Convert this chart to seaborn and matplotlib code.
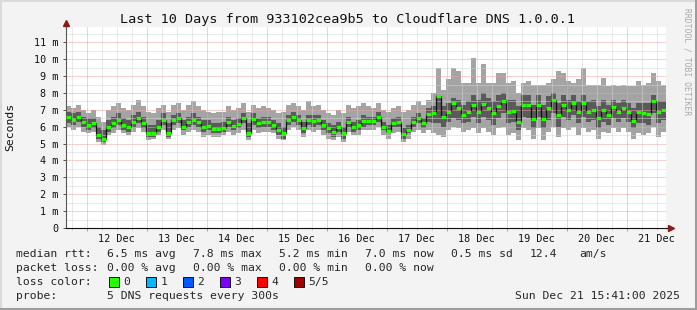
import numpy as np
import pandas as pd
import matplotlib
matplotlib.use('Agg')
import matplotlib.pyplot as plt
import seaborn as sns
from matplotlib.lines import Line2D
from matplotlib.patches import Rectangle

# ---------------- data (ms), 120 steps of 2 h over 10 days ----------------
median = [6.6, 6.4, 6.6, 6.3, 6.1, 6.2, 5.5, 5.3, 6.0, 6.2, 6.4, 6.1, 6.0, 6.3, 6.5, 6.2, 5.6, 5.6, 6.0, 6.4,
          5.6, 6.4, 6.5, 6.0, 6.3, 6.4, 6.3, 6.0, 6.05, 5.85, 5.85, 5.95, 6.3, 6.05, 6.15, 6.5, 5.6, 6.45, 6.2, 6.3,
          6.3, 6.1, 5.8, 5.6, 6.4, 6.6, 6.4, 5.9, 6.4, 6.35, 6.4, 6.1, 5.9, 5.7, 6.0, 5.6, 6.3, 6.0, 6.1, 6.35,
          6.35, 6.35, 6.6, 6.0, 5.75, 6.2, 6.3, 5.55, 5.8, 6.3, 6.5, 6.2, 6.75, 6.8, 7.8, 6.6, 6.9, 7.4, 7.1, 6.7,
          6.9, 7.3, 6.9, 7.35, 7.1, 6.8, 7.2, 7.5, 6.9, 6.95, 6.3, 7.3, 7.3, 6.45, 7.3, 6.45, 7.1, 7.6, 6.7, 7.3,
          7.0, 7.4, 6.9, 7.4, 6.9, 7.0, 6.5, 7.0, 6.7, 7.15, 6.9, 7.1, 6.9, 6.35, 6.85, 6.8, 6.75, 7.5, 6.9, 7.0]

light_hi = [7.2, 7.1, 7.3, 7.0, 6.8, 7.0, 6.6, 6.3, 7.0, 7.2, 7.4, 7.1, 7.0, 7.3, 7.6, 7.2, 6.9, 6.8, 7.1, 7.3,
            6.9, 7.3, 7.4, 7.0, 7.3, 7.5, 7.2, 7.0, 6.9, 6.8, 6.9, 6.9, 7.2, 7.0, 7.1, 7.4, 6.9, 7.3, 7.1, 7.2,
            7.1, 7.0, 6.8, 6.9, 7.3, 7.4, 7.2, 7.0, 7.5, 7.2, 7.3, 7.0, 6.8, 6.7, 7.0, 6.8, 7.3, 7.1, 7.2, 7.4,
            7.2, 7.1, 7.4, 7.0, 6.9, 7.1, 7.2, 6.9, 7.0, 7.3, 7.5, 7.3, 7.6, 8.0, 9.5, 8.2, 8.8, 9.5, 9.3, 8.6,
            8.6, 10.1, 8.6, 9.7, 8.6, 8.6, 9.2, 9.2, 8.6, 8.7, 8.0, 8.6, 8.7, 8.5, 8.5, 8.5, 8.6, 8.8, 9.3, 9.2,
            8.7, 8.6, 8.8, 9.5, 8.5, 8.5, 8.5, 8.9, 8.4, 8.5, 8.4, 8.5, 8.4, 8.4, 8.7, 8.5, 8.6, 9.2, 8.7, 8.5]

light_lo = [6.0, 5.8, 6.0, 5.7, 5.6, 5.7, 5.1, 4.9, 5.5, 5.6, 5.8, 5.6, 5.5, 5.7, 5.9, 5.7, 5.2, 5.3, 5.5, 5.8,
            5.3, 5.8, 5.9, 5.5, 5.7, 5.8, 5.7, 5.4, 5.5, 5.4, 5.4, 5.5, 5.7, 5.5, 5.6, 5.8, 5.2, 5.8, 5.6, 5.7,
            5.7, 5.6, 5.3, 5.2, 5.8, 6.0, 5.8, 5.4, 5.8, 5.7, 5.8, 5.5, 5.3, 5.2, 5.4, 5.1, 5.7, 5.5, 5.5, 5.8,
            5.8, 5.8, 6.0, 5.5, 5.3, 5.6, 5.7, 5.1, 5.3, 5.7, 5.8, 5.6, 5.8, 5.6, 5.5, 5.4, 5.8, 6.0, 5.9, 5.7,
            5.8, 5.9, 5.6, 5.9, 5.7, 5.5, 5.9, 6.0, 5.5, 5.6, 5.2, 5.9, 5.8, 5.3, 5.9, 5.2, 5.7, 6.0, 5.4, 5.9,
            5.8, 6.0, 5.5, 5.9, 5.7, 5.8, 5.3, 5.7, 5.6, 5.9, 5.7, 5.9, 5.7, 5.3, 5.6, 5.5, 5.6, 6.0, 5.4, 5.7]

dark_hi = [6.9, 6.8, 6.9, 6.6, 6.5, 6.5, 6.0, 5.8, 6.4, 6.6, 6.8, 6.5, 6.4, 6.7, 6.9, 6.6, 6.1, 6.1, 6.4, 6.8,
           6.2, 6.7, 6.8, 6.4, 6.6, 6.8, 6.6, 6.4, 6.4, 6.2, 6.2, 6.3, 6.6, 6.4, 6.5, 6.8, 6.2, 6.8, 6.5, 6.6,
           6.6, 6.4, 6.2, 6.0, 6.7, 6.9, 6.7, 6.3, 6.7, 6.7, 6.7, 6.4, 6.2, 6.1, 6.3, 6.0, 6.6, 6.3, 6.4, 6.7,
           6.6, 6.6, 6.9, 6.3, 6.1, 6.5, 6.6, 5.9, 6.1, 6.6, 6.8, 6.5, 7.1, 7.2, 7.9, 7.2, 7.4, 7.7, 7.6, 7.3,
           7.5, 7.9, 7.6, 8.0, 7.7, 7.5, 7.9, 8.0, 7.6, 7.6, 7.2, 7.9, 7.9, 7.3, 7.9, 7.3, 7.8, 8.0, 7.4, 7.9,
           7.6, 7.9, 7.5, 7.9, 7.5, 7.6, 7.2, 7.6, 7.3, 7.6, 7.4, 7.6, 7.4, 7.1, 7.4, 7.4, 7.4, 7.9, 7.5, 7.5]

dark_lo = [6.2, 6.1, 6.3, 6.0, 5.8, 5.9, 5.3, 5.1, 5.7, 5.9, 6.1, 5.8, 5.7, 6.0, 6.2, 5.9, 5.4, 5.4, 5.7, 6.1,
           5.4, 6.1, 6.2, 5.8, 6.0, 6.1, 6.0, 5.7, 5.8, 5.6, 5.6, 5.7, 6.0, 5.8, 5.9, 6.2, 5.4, 6.1, 5.9, 6.0,
           6.0, 5.8, 5.5, 5.3, 6.1, 6.3, 6.1, 5.6, 6.1, 6.0, 6.1, 5.8, 5.6, 5.4, 5.7, 5.3, 6.0, 5.7, 5.8, 6.0,
           6.1, 6.1, 6.3, 5.8, 5.6, 6.0, 6.0, 5.3, 5.6, 6.0, 6.2, 5.9, 6.3, 6.2, 6.2, 6.0, 6.3, 6.5, 6.4, 6.2,
           6.3, 6.6, 6.2, 6.6, 6.4, 6.1, 6.5, 6.8, 6.2, 6.3, 5.8, 6.6, 6.5, 5.9, 6.6, 5.9, 6.4, 6.8, 6.0, 6.6,
           6.4, 6.7, 6.2, 6.6, 6.3, 6.4, 5.9, 6.3, 6.1, 6.5, 6.3, 6.5, 6.3, 5.9, 6.2, 6.2, 6.1, 6.8, 6.2, 6.4]

day_labels = ['12 Dec', '13 Dec', '14 Dec', '15 Dec', '16 Dec', '17 Dec', '18 Dec', '19 Dec', '20 Dec', '21 Dec']
day_values = [12, 13, 14, 15, 16, 17, 18, 19, 20, 21]
ytick_values = [0, 1, 2, 3, 4, 5, 6, 7, 8, 9, 10, 11]
ytick_labels = ['0', '1 m', '2 m', '3 m', '4 m', '5 m', '6 m', '7 m', '8 m', '9 m', '10 m', '11 m']
loss_labels = ['0', '1', '2', '3', '4', '5/5']
loss_colors = ['#26FF00', '#00B8FF', '#0059FF', '#7E00FF', '#FF0000', '#A10000']

# ---------------- figure ----------------
sns.set_style('white')
plt.rcParams['font.family'] = ['DejaVu Sans Mono', 'DejaVu Sans']

W, H = 697, 310
fig = plt.figure(figsize=(W / 100, H / 100), dpi=100, facecolor='#F3F3F3')


def fx(px):
    return px / W


def fy(py):
    return 1 - py / H


X0, X1, YB, YT = 66, 666, 228, 27
ax = fig.add_axes([fx(X0), fy(YB), (X1 - X0) / W, (YB - YT) / H])
ax.set_facecolor('white')

start = 11 + (15 + 41 / 60) / 24
end = start + 10
n = len(median)
edges = start + np.arange(n + 1) / 12.0


def ext(a):
    return list(a) + [a[-1]]


ax.fill_between(edges, ext(light_lo), ext(light_hi), step='post', color='#A4A4A4', lw=0, zorder=2)
ax.fill_between(edges, ext(dark_lo), ext(dark_hi), step='post', color='#5A5A5A', lw=0, zorder=2.1)

# grid (drawn over the smoke like rrdtool)
dot = (0, (1, 1))
for h in np.arange(0.5, 11.95, 0.5):
    if abs(h - round(h)) < 1e-6:
        ax.axhline(h, color='#F2A0A0', lw=0.72, ls=dot, zorder=2.5)
    else:
        ax.axhline(h, color='#D4D4D4', lw=0.72, ls=dot, zorder=2.5)
q = np.arange(np.ceil(start * 4) / 4, end, 0.25)
for v in q:
    if abs(v - round(v)) < 1e-6:
        ax.axvline(v, color='#F2A0A0', lw=0.72, ls=dot, zorder=2.5)
    else:
        ax.axvline(v, color='#D4D4D4', lw=0.72, ls=dot, zorder=2.5)

df = pd.DataFrame({'time': edges, 'median': ext(median)})
sns.lineplot(data=df, x='time', y='median', drawstyle='steps-post', color='#111111', lw=0.9,
             ax=ax, zorder=3, estimator=None)
ax.hlines(median, edges[:-1] + 0.006, edges[1:] - 0.006, color=loss_colors[0], lw=2.3, zorder=3.2)

ax.set_xlim(start, end)
ax.set_ylim(0, (YB - YT) / 16.88)
ax.set_xlabel('')
ax.set_ylabel('')

ax.set_yticks(ytick_values)
ax.set_yticklabels(ytick_labels)
ax.set_xticks(day_values)
ax.set_xticklabels([])
ax.set_xticks(q, minor=True)
ax.tick_params(axis='y', which='major', length=2.2, width=0.7, color='#555555', pad=3,
               labelsize=7.3, labelcolor='#111111', left=True)
ax.tick_params(axis='x', which='major', length=2.0, width=0.7, color='#F08080', bottom=True)
ax.tick_params(axis='x', which='minor', length=1.5, width=0.7, color='#C8C8C8', bottom=True)
for v, lab in zip(day_values, day_labels):
    ax.text(v + 0.5, -10.5 / (YB - YT), lab, transform=ax.get_xaxis_transform(),
            ha='center', va='center', fontsize=7.3, color='#111111')

for s in ['top', 'right']:
    ax.spines[s].set_visible(False)
ax.spines['left'].set_color('#555555')
ax.spines['left'].set_linewidth(0.8)
ax.spines['bottom'].set_color('#111111')
ax.spines['bottom'].set_linewidth(0.8)
ax.grid(False)

# axis extensions and arrows
fig.add_artist(Line2D([fx(66), fx(66)], [fy(YT), fy(22)], color='#555555', lw=0.8))
fig.add_artist(Line2D([fx(X1), fx(671)], [fy(YB), fy(YB)], color='#111111', lw=0.8))
fig.add_artist(Line2D([fx(66)], [fy(23)], marker='^', ms=4.5, color='#8B1A1A', mec='#8B1A1A', lw=0))
fig.add_artist(Line2D([fx(671)], [fy(YB)], marker='>', ms=4.5, color='#8B1A1A', mec='#8B1A1A', lw=0))

# title & side texts
fig.text(fx(348), fy(19), 'Last 10 Days from 933102cea9b5 to Cloudflare DNS 1.0.0.1',
         ha='center', va='center', fontsize=9.7, color='#111111')
fig.text(fx(10), fy(127), 'Seconds', rotation=90, ha='center', va='center', fontsize=8.2, color='#111111')
fig.text(fx(687), fy(8), 'RRDTOOL / TOBI OETIKER', rotation=-90, ha='center', va='top',
         fontsize=5.8, color='#AAAAAA')

# legend lines
LFS = 8.2
rows = [254.3, 267.7, 281.7, 295.7]
fig.text(fx(16), fy(rows[0]), 'median rtt:', ha='left', va='center', fontsize=LFS)
for xp, t in zip([107, 193, 279, 365, 451, 530, 579],
                 ['6.5 ms avg', '7.8 ms max', '5.2 ms min', '7.0 ms now', '0.5 ms sd', '12.4', 'am/s']):
    fig.text(fx(xp), fy(rows[0]), t, ha='left', va='center', fontsize=LFS)
fig.text(fx(16), fy(rows[1]), 'packet loss:', ha='left', va='center', fontsize=LFS)
for xp, t in zip([107, 193, 279, 365], ['0.00 % avg', '0.00 % max', '0.00 % min', '0.00 % now']):
    fig.text(fx(xp), fy(rows[1]), t, ha='left', va='center', fontsize=LFS)
fig.text(fx(16), fy(rows[2]), 'loss color:', ha='left', va='center', fontsize=LFS)
sq_x = [108.5, 145.5, 182.5, 219.5, 256.5, 293.5]
for xp, lab, col in zip(sq_x, loss_labels, loss_colors):
    fig.add_artist(Rectangle((fx(xp), fy(rows[2] + 5)), 10 / W, 10 / H, facecolor=col,
                             edgecolor='#111111', lw=0.7))
    fig.text(fx(xp + 15), fy(rows[2]), lab, ha='left', va='center', fontsize=LFS)
fig.text(fx(16), fy(rows[3]), 'probe:', ha='left', va='center', fontsize=LFS)
fig.text(fx(107), fy(rows[3]), '5 DNS requests every 300s', ha='left', va='center', fontsize=LFS)
fig.text(fx(680), fy(rows[3]), 'Sun Dec 21 15:41:00 2025', ha='right', va='center', fontsize=LFS)

# outer 3D frame
fig.add_artist(Line2D([fx(0.5), fx(0.5)], [0, 1], color='#DADADA', lw=1.5))
fig.add_artist(Line2D([0, 1], [fy(0.5), fy(0.5)], color='#DADADA', lw=1.5))
fig.add_artist(Line2D([fx(695.5), fx(695.5)], [0, 1], color='#9C9C9C', lw=2.2))
fig.add_artist(Line2D([0, 1], [fy(308.5), fy(308.5)], color='#9C9C9C', lw=2.2))

fig.savefig('out.png', dpi=100, facecolor=fig.get_facecolor())
